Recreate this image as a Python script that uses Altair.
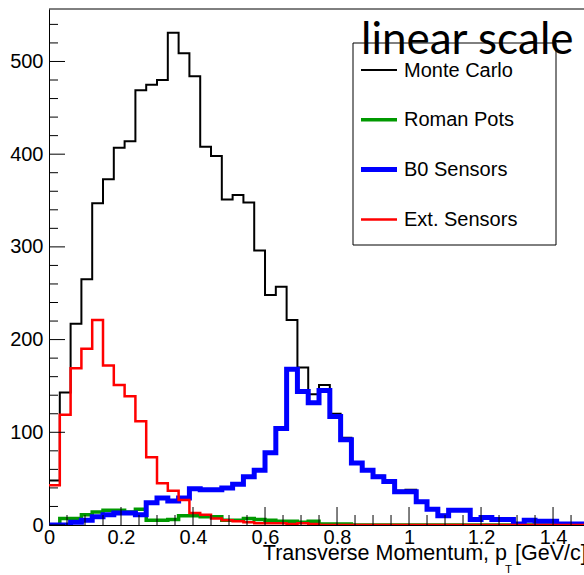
import altair as alt
import pandas as pd

# ---- data ----
bin_lo = [0.00, 0.03, 0.06, 0.09, 0.12, 0.15, 0.18, 0.21, 0.24, 0.27,
          0.30, 0.33, 0.36, 0.39, 0.42, 0.45, 0.48, 0.51, 0.54, 0.57,
          0.60, 0.63, 0.66, 0.69, 0.72, 0.75, 0.78, 0.81, 0.84, 0.87,
          0.90, 0.93, 0.96, 0.99, 1.02, 1.05, 1.08, 1.11, 1.14, 1.17,
          1.20, 1.23, 1.26, 1.29, 1.32, 1.35, 1.38, 1.41, 1.44, 1.47]
x_end = 1.50

monte_carlo = [48, 143, 217, 265, 347, 373, 407, 414, 469, 475,
               480, 531, 509, 484, 408, 398, 351, 356, 348, 296,
               248, 257, 221, 170, 141, 151, 120, 94, 68, 60,
               53, 48, 37, 38, 25, 17, 11, 17, 17, 6,
               8, 6, 6, 2, 5, 4, 4, 1, 1, 1]
roman_pots = [0, 7, 7, 11, 14, 16, 16, 14, 17, 5,
              5, 6, 10, 10, 9, 9, 5, 5, 7, 6,
              5, 4, 4, 3, 4, 1, 1, 1, 0, 0,
              0, 0, 0, 0, 0, 0, 0, 0, 0, 0,
              0, 0, 0, 0, 0, 0, 0, 0, 0, 0]
b0_sensors = [0, 0, 3, 5, 9, 11, 13, 13, 11, 24,
              29, 26, 29, 39, 38, 38, 40, 44, 52, 59,
              78, 104, 168, 144, 132, 145, 117, 92, 67, 59,
              52, 47, 36, 36, 25, 17, 10, 16, 16, 6,
              8, 6, 6, 1, 5, 4, 4, 1, 1, 1]
ext_sensors = [43, 119, 169, 190, 221, 172, 151, 139, 112, 73,
               45, 37, 27, 13, 11, 7, 5, 4, 3, 2,
               2, 2, 1, 2, 1, 0, 0, 0, 0, 0,
               0, 0, 0, 0, 0, 0, 0, 0, 0, 0,
               0, 0, 0, 0, 0, 0, 0, 0, 0, 0]

series_names = ["Monte Carlo", "Roman Pots", "B0 Sensors", "Ext. Sensors"]
series_values = [monte_carlo, roman_pots, b0_sensors, ext_sensors]
series_colors = ["#000000", "#009900", "#0000ff", "#ff0000"]
series_widths = [2, 3.5, 5, 2.5]

y_major = [0, 100, 200, 300, 400, 500]
y_minor = [20, 40, 60, 80, 120, 140, 160, 180, 220, 240, 260, 280,
           320, 340, 360, 380, 420, 440, 460, 480, 520, 540]
x_major = [0, 0.2, 0.4, 0.6, 0.8, 1.0, 1.2, 1.4]
x_minor = [0.05, 0.1, 0.15, 0.25, 0.3, 0.35, 0.45, 0.5, 0.55, 0.65, 0.7,
           0.75, 0.85, 0.9, 0.95, 1.05, 1.1, 1.15, 1.25, 1.3, 1.35, 1.45]

W, H = 535, 516
FONT = "Liberation Sans"

xs = alt.Scale(domain=[0, 1.486], nice=False, zero=False)
ys = alt.Scale(domain=[0, 556.6], nice=False)

xaxis = alt.Axis(values=x_major, format="~g", title=None, grid=False,
                 ticks=False, tickSize=0, labelPadding=2, labelFontSize=20,
                 labelFont=FONT, labelColor="#000", labelFlush=False,
                 labelOverlap=False, domainColor="#000", domainWidth=1)
yaxis = alt.Axis(values=y_major, title=None, grid=False, ticks=False,
                 tickSize=0, labelPadding=6, labelFontSize=20, labelFont=FONT,
                 labelColor="#000", labelOverlap=False, labelFlush=False,
                 domainColor="#000", domainWidth=1)

layers = []
for name, vals, col, sw in zip(series_names, series_values,
                               series_colors, series_widths):
    df = pd.DataFrame({"x": bin_lo + [x_end], "y": vals + [vals[-1]]})
    layers.append(
        alt.Chart(df).mark_line(interpolate="step-after", color=col,
                                strokeWidth=sw, strokeJoin="miter",
                                strokeCap="butt", clip=True)
        .encode(x=alt.X("x:Q", scale=xs, axis=xaxis),
                y=alt.Y("y:Q", scale=ys, axis=yaxis),
                order=alt.Order("x:Q"))
    )

# ticks drawn inside the frame (ROOT style)
def yticks(vals, length):
    return alt.Chart(pd.DataFrame({"y": vals})).mark_rule(
        color="#000", strokeWidth=1).encode(
        y=alt.Y("y:Q", scale=ys, axis=yaxis),
        x=alt.value(0), x2=alt.value(length))

def xticks(vals, length):
    return alt.Chart(pd.DataFrame({"x": vals})).mark_rule(
        color="#000", strokeWidth=1, clip=True).encode(
        x=alt.X("x:Q", scale=xs, axis=xaxis),
        y=alt.value(H), y2=alt.value(H - length))

layers += [yticks(y_major, 16), yticks(y_minor, 9),
           xticks(x_major, 18), xticks(x_minor, 10)]

one = pd.DataFrame({"k": [0]})
# top frame line
layers.append(alt.Chart(one).mark_rule(color="#000", strokeWidth=1).encode(
    x=alt.value(0), x2=alt.value(W), y=alt.value(0)))

# legend box
layers.append(alt.Chart(one).mark_rect(fill="white", stroke="#000",
                                       strokeWidth=1).encode(
    x=alt.value(304), x2=alt.value(507), y=alt.value(34), y2=alt.value(236)))

for i, (name, col, sw) in enumerate(zip(series_names, series_colors,
                                        series_widths)):
    ly = 61 + i * 49.8
    layers.append(alt.Chart(one).mark_rule(color=col, strokeWidth=sw).encode(
        x=alt.value(312), x2=alt.value(348), y=alt.value(ly)))
    layers.append(alt.Chart(pd.DataFrame({"t": [name]})).mark_text(
        align="left", baseline="alphabetic", font=FONT, fontSize=20,
        color="#000").encode(
        x=alt.value(355), y=alt.value(ly + 6.5), text="t:N"))

# "linear scale" annotation
layers.append(alt.Chart(pd.DataFrame({"t": ["linear scale"]})).mark_text(
    align="left", baseline="alphabetic", font="Lato", fontSize=44,
    color="#000").encode(x=alt.value(312), y=alt.value(44.5), text="t:N"))

# x-axis title with subscript
layers.append(alt.Chart(pd.DataFrame({"t": ["Transverse Momentum, p"]})).mark_text(
    align="right", baseline="alphabetic", font=FONT, fontSize=21.5,
    color="#000").encode(x=alt.value(458), y=alt.value(551), text="t:N"))
layers.append(alt.Chart(pd.DataFrame({"t": ["T"]})).mark_text(
    align="left", baseline="alphabetic", font=FONT, fontSize=11.5,
    color="#000").encode(x=alt.value(456), y=alt.value(564), text="t:N"))
layers.append(alt.Chart(pd.DataFrame({"t": ["[GeV/c]"]})).mark_text(
    align="left", baseline="alphabetic", font=FONT, fontSize=21.5,
    color="#000").encode(x=alt.value(466), y=alt.value(551), text="t:N"))

chart = alt.layer(*layers).properties(
    width=W, height=H,
    autosize=alt.AutoSizeParams(type="none"),
    padding={"left": 49, "top": 9, "right": 0, "bottom": 50},
    background="white",
).configure_view(strokeWidth=0)

chart.save("out.html", embed_options={"renderer": "svg", "actions": False})
